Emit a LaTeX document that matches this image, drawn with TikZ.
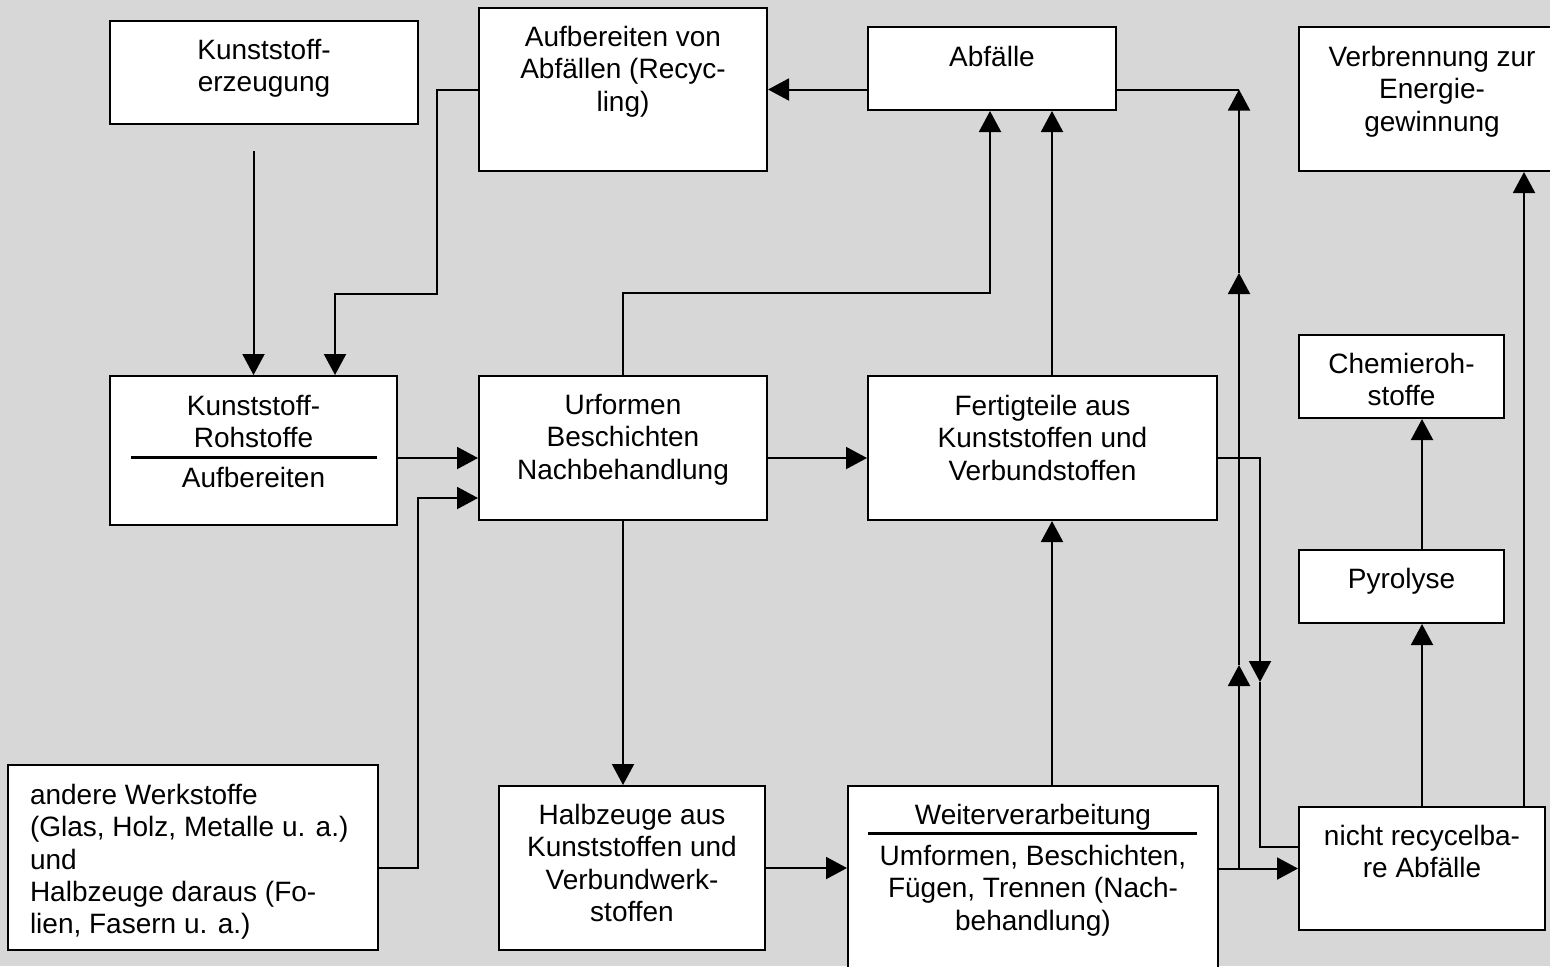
\documentclass[tikz,border=0pt]{standalone}
\usepackage{fontspec}
\setmainfont{Liberation Sans}
\usetikzlibrary{arrows.meta, positioning, calc}
\definecolor{bggrey}{RGB}{215,215,215}
\tikzset{
    prozess/.style={
        draw, fill=white, line width=1pt, inner sep=0pt
    },
    beschriftung/.style={align=center, inner sep=0pt},
    pfeil/.style={-{Triangle[length=10.5pt, width=11pt]}},
    trennlinie/.style={line width=1.5pt},
}

\begin{document}
\begin{tikzpicture}[x=0.5pt, y=-0.5pt, line width=1pt, font=\fontsize{14pt}{16.2pt}\selectfont]

        % BACKGROUND
        \useasboundingbox (0,0) rectangle (1550,966);
        \fill[bggrey] (0,0) rectangle (1550,966);
        \clip (0,0) rectangle (1550,966);

        % BOXES TOP ROW
        \node[prozess, minimum width=154pt,   minimum height=51.5pt] (KE) at (264,72.5)    {};
        \node[prozess, minimum width=144pt,   minimum height=81.5pt] (AA) at (623,89.5)    {};
        \node[prozess, minimum width=124pt,   minimum height=41.5pt] (AB) at (992,68.5)    {};
        \node[prozess, minimum width=133pt,   minimum height=72pt]   (VE) at (1432,99)     {};

        % BOXES MIDDLE ROW
        \node[prozess, minimum width=143.5pt, minimum height=74.5pt] (RS) at (253.5,450.5) {};
        \node[prozess, minimum width=144pt,   minimum height=72pt]   (UF) at (623,448)     {};
        \node[prozess, minimum width=174.5pt, minimum height=72pt]   (FT) at (1042.5,448)  {};
        \node[prozess, minimum width=102.5pt, minimum height=41.5pt] (CR) at (1401.5,376.5) {};
        \node[prozess, minimum width=102.5pt, minimum height=36.5pt] (PY) at (1401.5,586.5) {};

        % BOXES BOTTOM ROW
        \node[prozess, minimum width=185pt,   minimum height=92.5pt] (AW) at (193,857.5)   {};
        \node[prozess, minimum width=133pt,   minimum height=82pt]   (HZ) at (632,868)     {};
        \node[prozess, minimum width=185pt,   minimum height=107pt]  (WV) at (1033,893)    {};
        \node[prozess, minimum width=123pt,   minimum height=61.5pt] (NR) at (1422,868.5)  {};

        % TEXTS
        \node[beschriftung, below=9pt of KE.north] (KE-T) {Kunststoff-\\erzeugung};
        \node[beschriftung, below=9pt of AA.north] (AA-T) {Aufbereiten von\\Abfällen (Recyc-\\ling)};
        \node[beschriftung, below=9.5pt of AB.north] (AB-T) {Abfälle};
        \node[beschriftung, below=9.5pt of VE.north] (VE-T) {Verbrennung zur\\Energie-\\gewinnung};
        \node[beschriftung, below=9.5pt of RS.north] (RS-T) {Kunststoff-\\Rohstoffe};
        \node[beschriftung, below=45.5pt of RS.north] (RS-U) {Aufbereiten};
        \node[beschriftung, below=9pt of UF.north] (UF-T) {Urformen\\Beschichten\\Nachbehandlung};
        \node[beschriftung, below=9.5pt of FT.north] (FT-T) {Fertigteile aus\\Kunststoffen und\\Verbundstoffen};
        \node[beschriftung, below=9pt of CR.north] (CR-T) {Chemieroh-\\stoffe};
        \node[beschriftung, below=9pt of PY.north] (PY-T) {Pyrolyse};
        \node[beschriftung, align=left, below right=9.5pt and 11pt of AW.north west] (AW-T)
            {andere Werkstoffe\\(Glas, Holz, Metalle u. a.)\\und\\Halbzeuge daraus (Fo-\\lien, Fasern u. a.)};
        \node[beschriftung, below=9pt of HZ.north] (HZ-T) {Halbzeuge aus\\Kunststoffen und\\Verbundwerk-\\stoffen};
        \node[beschriftung, below=9pt of WV.north] (WV-T) {Weiterverarbeitung};
        \node[beschriftung, below=29.5pt of WV.north] (WV-U) {Umformen, Beschichten,\\Fügen, Trennen (Nach-\\behandlung)};
        \node[beschriftung, below=9pt of NR.north] (NR-T) {nicht recycelba-\\re Abfälle};

        % RULES IN BOXES
        \draw[trennlinie] ($(RS.north west) + (22,82)$) -- ($(RS.north east) + (-21,82)$);
        \draw[trennlinie] ($(WV.north west) + (21,48)$) -- ($(WV.north east) + (-22,48)$);

        % CONNECTOR POINTS
        \coordinate (KEOUT)  at ($(KE.south) + (-10.5,26)$);
        \coordinate (AAL1)   at ($(AA.west) + (-41,0)$);
        \coordinate (AAL2)   at ($(AAL1) + (0,204.5)$);
        \coordinate (RSIN2)  at ($(RS.north) + (81.5,0)$);
        \coordinate (UFUP)   at ($(UF.north) + (0,-82)$);
        \coordinate (ABIN1)  at ($(AB.south) + (-2,0)$);
        \coordinate (FTUP)   at ($(FT.north) + (9.5,0)$);
        \coordinate (YMID)   at ($(UF.west) + (0,10)$);
        \coordinate (UFIN2)  at ($(UF.west) + (0,50)$);
        \coordinate (AWBEND) at ($(AW.east |- HZ.east) + (39,0)$);
        \coordinate (RISE0)  at ($(WV.east |- NR.west) + (20,0)$);
        \coordinate (RISE1)  at ($(RISE0) + (0,-203.5)$);
        \coordinate (RISE2)  at ($(RISE1) + (0,-392)$);
        \coordinate (RISE3)  at (RISE0 |- AA.east);
        \coordinate (DOWN1)  at ($(FT.east |- YMID) + (42,224)$);
        \coordinate (NRIN2)  at ($(NR.west) + (0,-21.5)$);
        \coordinate (VEIN)   at ($(NR.north) + (102,0)$);

        % CONNECTIONS TO RAW MATERIALS
        \draw[pfeil] (KEOUT) -- (KEOUT |- RS.north);
        \draw[pfeil] (AA.west) -- (AAL1) -- (AAL2) -| (RSIN2);
        \draw[pfeil] (AB.west |- AA.east) -- (AA.east);

        % CONNECTIONS TO WASTE
        \draw[pfeil] (UF.north) -- (UFUP) -| (ABIN1);
        \draw[pfeil] (FTUP) -- (FTUP |- AB.south);
        \draw (AB.east |- AA.east) -- (RISE3);
        \draw[pfeil] (RISE0) -- (RISE1);
        \draw[pfeil] (RISE1) -- (RISE2);
        \draw[pfeil] (RISE2) -- (RISE3);

        % MAIN FLOW
        \draw[pfeil] (RS.east |- YMID) -- (YMID);
        \draw[pfeil] (AW.east |- HZ.east) -- (AWBEND) |- (UFIN2);
        \draw[pfeil] (UF.east |- YMID) -- (FT.west |- YMID);
        \draw[pfeil] (UF.south) -- (UF.south |- HZ.north);
        \draw[pfeil] (HZ.east) -- (WV.west |- HZ.east);
        \draw[pfeil] (FTUP |- WV.north) -- (FTUP |- FT.south);

        % NOT RECYCLABLE
        \draw[pfeil] (WV.east |- NR.west) -- (NR.west);
        \draw[pfeil] (FT.east |- YMID) -| (DOWN1);
        \draw (DOWN1) |- (NRIN2);
        \draw[pfeil] (NR.north) -- (NR.north |- PY.south);
        \draw[pfeil] (NR.north |- PY.north) -- (NR.north |- CR.south);
        \draw[pfeil] (VEIN) -- (VEIN |- VE.south);

    \end{tikzpicture}
\end{document}
